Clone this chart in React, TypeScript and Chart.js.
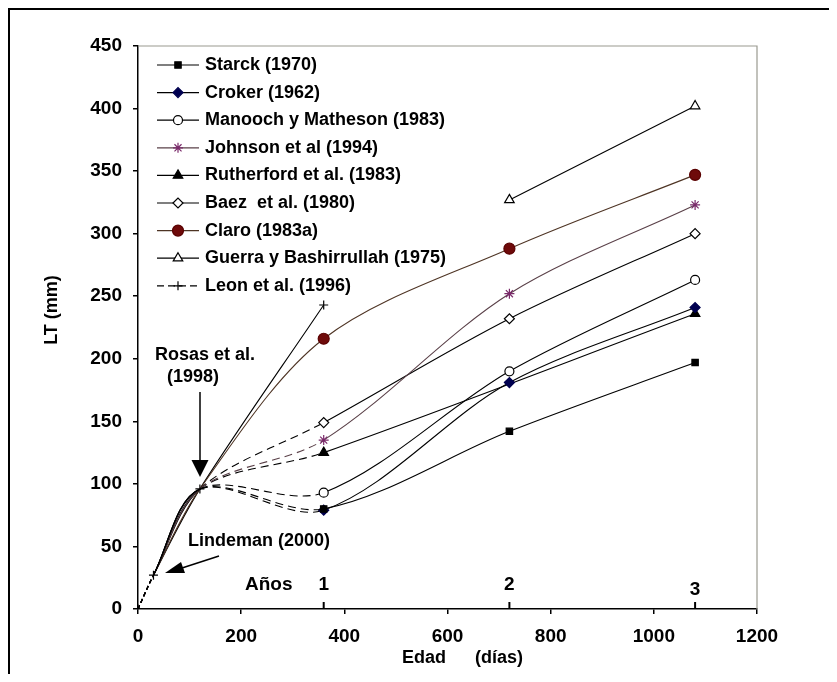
import React, { useEffect, useRef } from 'react';
import { Chart, registerables } from 'chart.js';
import { drawPoint } from 'chart.js/helpers';

Chart.register(...registerables);

// ---- data ----
const AGES = [0, 30, 120, 360, 720, 1080];
const STARCK = [0, 27, 96, 80, 142, 197];
const CROKER = [0, 27, 96, 79, 181, 241];
const MANOOCH = [0, 27, 96, 93, 190, 263];
const JOHNSON = [0, 27, 96, 135, 252, 323];
const RUTHERFORD = [0, 27, 96, 125, null, 236];
const BAEZ = [0, 27, 96, 149, 232, 300];
const CLARO = [0, 27, 96, 216, 288, 347];
const GUERRA = [null, null, null, null, 327, 402];
const LEON = [0, 27, 96, 243, null, null];

const LABELS = [
  'Starck (1970)',
  'Croker (1962)',
  'Manooch y Matheson (1983)',
  'Johnson et al (1994)',
  'Rutherford et al. (1983)',
  'Baez  et al. (1980)',
  'Claro (1983a)',
  'Guerra y Bashirrullah (1975)',
  'Leon et al. (1996)',
];
const YEAR_TICKS = [360, 720, 1080];
const YEAR_LABELS = ['1', '2', '3'];
const X_TITLE_A = 'Edad';
const X_TITLE_B = '(días)';
const Y_TITLE = 'LT (mm)';

const FONT = "'Liberation Sans', Arial, sans-serif";

function pts(vals: (number | null)[]) {
  const out: { x: number; y: number }[] = [];
  vals.forEach((v, i) => {
    if (v !== null) out.push({ x: AGES[i], y: v });
  });
  return out;
}

type Sty = {
  style: string;
  radius: number;
  fill: string;
  stroke: string;
  line: string;
  dashEarly: boolean;
  legendDash?: number[];
};

const STYLES: Sty[] = [
  { style: 'rect', radius: 4.5, fill: '#000', stroke: '#000', line: '#000', dashEarly: true },
  { style: 'rectRot', radius: 5, fill: '#000050', stroke: '#000050', line: '#000', dashEarly: true },
  { style: 'circle', radius: 4.5, fill: '#fff', stroke: '#000', line: '#000', dashEarly: true },
  { style: 'star', radius: 5, fill: '#7a2a6a', stroke: '#7a2a6a', line: '#5a4048', dashEarly: true },
  { style: 'triangle', radius: 5.5, fill: '#000', stroke: '#000', line: '#000', dashEarly: true },
  { style: 'rectRot', radius: 5, fill: '#fff', stroke: '#000', line: '#000', dashEarly: true },
  { style: 'circle', radius: 5.5, fill: '#6e0a0a', stroke: '#5a0000', line: '#4e3424', dashEarly: false },
  { style: 'triangle', radius: 5.5, fill: '#fff', stroke: '#000', line: '#000', dashEarly: false },
  { style: 'cross', radius: 4.5, fill: '#000', stroke: '#000', line: '#000', dashEarly: false, legendDash: [7, 4] },
];

const SERIES = [STARCK, CROKER, MANOOCH, JOHNSON, RUTHERFORD, BAEZ, CLARO, GUERRA, LEON];

const overlay = {
  id: 'overlay',
  afterDraw(chart: any) {
    const ctx = chart.ctx as CanvasRenderingContext2D;
    const xs = chart.scales.x;
    const { left, right, top, bottom } = chart.chartArea;
    ctx.save();

    // frame top/right
    ctx.strokeStyle = '#9a9a90';
    ctx.lineWidth = 1.2;
    ctx.beginPath();
    ctx.moveTo(left, top);
    ctx.lineTo(right, top);
    ctx.lineTo(right, bottom);
    ctx.stroke();

    // year ticks (upward) and labels
    ctx.strokeStyle = '#000';
    ctx.lineWidth = 2;
    ctx.fillStyle = '#000';
    ctx.font = `bold 19px ${FONT}`;
    ctx.textAlign = 'center';
    ctx.textBaseline = 'middle';
    YEAR_TICKS.forEach((d, i) => {
      const px = xs.getPixelForValue(d);
      ctx.beginPath();
      ctx.moveTo(px, bottom);
      ctx.lineTo(px, bottom - 7);
      ctx.stroke();
      ctx.fillText(YEAR_LABELS[i], px, bottom - (i === 2 ? 19 : 24));
    });
    ctx.textAlign = 'left';
    ctx.fillText('Años', 235, bottom - 24);

    // annotations
    ctx.font = `bold 18px ${FONT}`;
    ctx.textAlign = 'center';
    ctx.fillText('Rosas et al.', 195, 345);
    ctx.fillText('(1998)', 183, 367);
    ctx.textAlign = 'left';
    ctx.fillText('Lindeman (2000)', 178, 531);

    ctx.lineWidth = 1.5;
    ctx.beginPath();
    ctx.moveTo(190, 382);
    ctx.lineTo(190, 452);
    ctx.stroke();
    ctx.beginPath();
    ctx.moveTo(190, 467);
    ctx.lineTo(181.5, 450);
    ctx.lineTo(198.5, 450);
    ctx.closePath();
    ctx.fill();

    ctx.beginPath();
    ctx.moveTo(209, 546);
    ctx.lineTo(172, 558);
    ctx.stroke();
    ctx.beginPath();
    ctx.moveTo(155, 563);
    ctx.lineTo(171, 552);
    ctx.lineTo(175, 563);
    ctx.closePath();
    ctx.fill();

    // axis titles
    ctx.font = `bold 18px ${FONT}`;
    ctx.textAlign = 'left';
    ctx.fillText(X_TITLE_A, 392, 648);
    ctx.fillText(X_TITLE_B, 465, 648);
    ctx.save();
    ctx.translate(42, 300);
    ctx.rotate(-Math.PI / 2);
    ctx.textAlign = 'center';
    ctx.fillText(Y_TITLE, 0, 0);
    ctx.restore();

    // legend
    chart.data.datasets.forEach((ds: any, i: number) => {
      const s = STYLES[i];
      const y = 55 + i * 27.6;
      ctx.save();
      ctx.strokeStyle = s.line;
      ctx.lineWidth = 1.2;
      ctx.setLineDash(s.legendDash || []);
      ctx.beginPath();
      ctx.moveTo(147, y);
      ctx.lineTo(189, y);
      ctx.stroke();
      ctx.setLineDash([]);
      ctx.fillStyle = s.fill;
      ctx.strokeStyle = s.stroke;
      ctx.lineWidth = 1.2;
      drawPoint(ctx, { pointStyle: s.style as any, radius: s.radius, rotation: 0, borderWidth: 1.2 }, 168, y);
      ctx.restore();
      ctx.fillStyle = '#000';
      ctx.font = `bold 18px ${FONT}`;
      ctx.textAlign = 'left';
      ctx.textBaseline = 'middle';
      ctx.fillText(ds.label, 195, y);
    });

    ctx.restore();
  },
};

export default function App() {
  const ref = useRef<HTMLCanvasElement>(null);
  useEffect(() => {
    const datasets = SERIES.map((vals, i) => {
      const s = STYLES[i];
      const isLeon = i === 8;
      return {
        label: LABELS[i],
        data: pts(vals),
        borderColor: s.line,
        borderWidth: 1.1,
        pointStyle: s.style,
        pointBackgroundColor: s.fill,
        pointBorderColor: s.stroke,
        pointBorderWidth: 1.2,
        pointRadius: (c: any) => (isLeon || (c.raw && c.raw.x >= 360) ? s.radius : 0),
        pointHoverRadius: 0,
        tension: 0.32,
        spanGaps: true,
        fill: false,
        segment: {
          borderDash: (c: any) => {
            if (c.p1.parsed.x <= 30) return [4, 3];
            if (s.dashEarly && c.p0.parsed.x >= 120 && c.p1.parsed.x <= 360) return [8, 5];
            return undefined;
          },
        },
      };
    });
    const tickFont = { family: FONT, size: 19, weight: 'bold' as const };
    const chart = new Chart(ref.current!, {
      type: 'line',
      data: { datasets: datasets as any },
      options: {
        animation: false,
        responsive: false,
        devicePixelRatio: 1,
        layout: { padding: { left: 0, top: 36, right: 80, bottom: 0 } },
        plugins: { legend: { display: false }, tooltip: { enabled: false } },
        scales: {
          x: {
            type: 'linear',
            min: 0,
            max: 1200,
            ticks: {
              stepSize: 200,
              color: '#000',
              font: tickFont,
              padding: 11,
              maxRotation: 0,
              callback: (v: any) => String(v),
            },
            grid: { drawOnChartArea: false, drawTicks: true, tickLength: 5, color: '#000', lineWidth: 1.5 },
            border: { display: true, color: '#000', width: 1.5 },
            afterFit: (sc: any) => {
              sc.height = 65;
            },
          },
          y: {
            type: 'linear',
            min: 0,
            max: 450,
            ticks: { stepSize: 50, color: '#000', font: tickFont, padding: 11, callback: (v: any) => String(v) },
            grid: { drawOnChartArea: false, drawTicks: true, tickLength: 5, color: '#000', lineWidth: 1.5 },
            border: { display: true, color: '#000', width: 1.5 },
            afterFit: (sc: any) => {
              sc.width = 128;
            },
          },
        },
      },
      plugins: [overlay],
    });
    return () => chart.destroy();
  }, []);
  return (
    <div
      style={{
        width: 827,
        height: 664,
        borderTop: '2px solid #000',
        borderLeft: '2px solid #000',
        background: '#fff',
      }}
    >
      <canvas ref={ref} width={827} height={664} style={{ display: 'block', width: 827, height: 664 }} />
    </div>
  );
}
